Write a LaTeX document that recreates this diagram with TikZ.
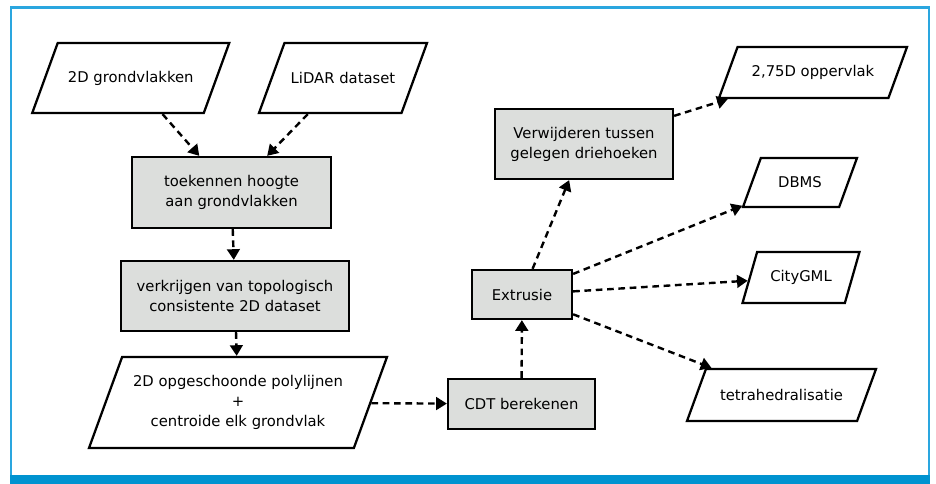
\documentclass[tikz,border=0pt]{standalone}
\usepackage{fontspec}
\setmainfont{DejaVu Sans}
\usetikzlibrary{shapes.geometric,arrows.meta}
\definecolor{framebl}{HTML}{2AA6DF}
\definecolor{barbl}{HTML}{0093D0}
\definecolor{boxgray}{HTML}{DCDEDC}
\begin{document}
\begin{tikzpicture}[x=0.75pt,y=-0.75pt,
  every node/.style={font=\fontsize{11.1pt}{15pt}\selectfont, align=center, line width=1.7pt, inner sep=1pt},
  procbox/.style={draw=black, fill=boxgray, rectangle},
  databox/.style={draw=black, fill=white, trapezium, trapezium left angle=70, trapezium right angle=110, minimum width=0pt, minimum height=0pt},
  flow/.style={line width=1.8pt, dash pattern=on 5pt off 3.5pt, -{Triangle[length=8pt,width=9.5pt]}}
]
\useasboundingbox (0,0) rectangle (936,484);
\fill[white] (0,0) rectangle (936,484);
\draw[framebl, line width=1.6pt] (11,7.5) rectangle (929,478);
\fill[barbl] (10,475) rectangle (930,484);

\node[databox, inner xsep=54.77pt, inner ysep=26.25pt, label={center:2D grondvlakken}] (g2d) at (130.75,78) {};
\node[databox, inner xsep=43.9pt, inner ysep=26.25pt, label={center:LiDAR dataset}] (lidar) at (343,78) {};
\node[procbox, minimum width=149.25pt, minimum height=53.25pt] (toek) at (231.5,192.5) {toekennen hoogte\\aan grondvlakken};
\node[procbox, minimum width=171pt, minimum height=52.5pt] (verk) at (235,296) {verkrijgen van topologisch\\consistente 2D dataset};
\node[databox, inner xsep=86.91pt, inner ysep=34.125pt, label={[align=center]center:2D opgeschoonde polylijnen\\+\\centroide elk grondvlak}] (opg) at (238,402.5) {};
\node[procbox, minimum width=110.25pt, minimum height=37.5pt] (cdt) at (521.5,404) {CDT berekenen};
\node[procbox, minimum width=75pt, minimum height=36.75pt] (ext) at (522,294.5) {Extrusie};
\node[procbox, minimum width=133.5pt, minimum height=52.5pt] (verw) at (584,144) {Verwijderen tussen\\gelegen driehoeken};
\node[databox, inner xsep=56.58pt, inner ysep=19.125pt, label={center:2,75D oppervlak}] (opp) at (813,72.5) {};
\node[databox, inner xsep=29.37pt, inner ysep=18.375pt, label={center:DBMS}] (dbms) at (800,182.5) {};
\node[databox, trapezium left angle=74, trapezium right angle=106, inner xsep=32.9pt, inner ysep=19.125pt, label={center:CityGML}] (city) at (801,277.5) {};
\node[databox, inner xsep=56.68pt, inner ysep=19.5pt, label={center:tetrahedralisatie}] (tetra) at (781.5,395) {};

\draw[flow] (g2d) -- (toek);
\draw[flow] (lidar) -- (toek);
\draw[flow] (toek) -- (verk);
\draw[flow] (verk) -- (opg);
\draw[flow] (opg) -- (cdt);
\draw[flow] (cdt) -- (ext);
\draw[flow] (ext) -- (verw);
\draw[flow] (verw) -- (opp);
\draw[flow] (ext) -- (dbms);
\draw[flow] (ext) -- (city);
\draw[flow] (ext) -- (tetra);
\end{tikzpicture}
\end{document}
